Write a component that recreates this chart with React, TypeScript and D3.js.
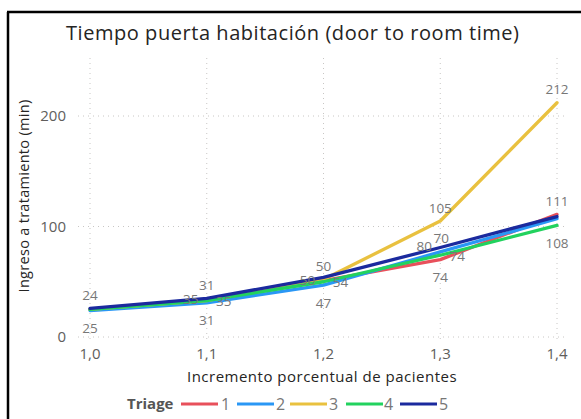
import React from "react";
import * as d3 from "d3";

const xValues = [1.0, 1.1, 1.2, 1.3, 1.4];
const xTickLabels = ["1,0", "1,1", "1,2", "1,3", "1,4"];
const yTicks = [0, 100, 200];
const seriesNames = ["1", "2", "3", "4", "5"];
const seriesColors = ["#E8505B", "#2A97F5", "#E9C13F", "#22D25E", "#1B2A9E"];
const triage1 = [25, 33, 51, 70, 111];
const triage2 = [24, 31, 47, 77, 107];
const triage3 = [25, 33, 52, 105, 212];
const triage4 = [25, 33, 50, 74, 101];
const triage5 = [26, 35, 54, 81, 109];
const seriesValues = [triage1, triage2, triage3, triage4, triage5];

// data labels as shown: series index, point index, text, placement
const dataLabels: [number, number, string, string][] = [
  [4, 0, "24", "above"],
  [1, 0, "25", "below"],
  [4, 1, "31", "above"],
  [1, 1, "31", "below"],
  [3, 1, "35", "left"],
  [3, 1, "35", "right"],
  [2, 2, "50", "above"],
  [1, 2, "47", "below"],
  [3, 2, "50", "left"],
  [3, 2, "54", "right"],
  [2, 3, "105", "above"],
  [4, 3, "80", "left"],
  [4, 3, "70", "aboveTight"],
  [3, 3, "74", "right"],
  [0, 3, "74", "below"],
  [2, 4, "212", "above"],
  [0, 4, "111", "above"],
  [3, 4, "108", "below"],
];

const W = 581;
const H = 419;

export default function App() {
  const x = d3.scaleLinear().domain([1.0, 1.4]).range([90, 557]);
  const y = d3.scaleLinear().domain([0, 200]).range([337, 116]);
  const plotTop = 58;
  const line = d3
    .line<number>()
    .x((_, i) => x(xValues[i]))
    .y((d) => y(d));

  const font = "'Open Sans', 'DejaVu Sans', sans-serif";
  const offsets: Record<string, [number, number]> = {
    above: [0, -13],
    aboveTight: [1, -9],
    below: [0, 18],
    left: [-16, -1],
    right: [17, 1],
  };

  const legendItems = [
    { lx: 181, tx: 221 },
    { lx: 237, tx: 276 },
    { lx: 290, tx: 329 },
    { lx: 346, tx: 384 },
    { lx: 400, tx: 439 },
  ];

  return (
    <svg
      width={W}
      height={H}
      style={{ position: "absolute", left: 0, top: 0, background: "#fff" }}
      fontFamily={font}
    >
      {/* frame */}
      <line x1={7} y1={12} x2={W} y2={12} stroke="#000" strokeWidth={2.5} />
      <line x1={8} y1={12} x2={8} y2={H} stroke="#000" strokeWidth={2.5} />

      {/* title */}
      <text x={66} y={40} fontSize={20} fill="#252423" style={{ letterSpacing: "0.55px" }}>
        Tiempo puerta habitación (door to room time)
      </text>

      {/* gridlines */}
      {yTicks.map((t) => (
        <line
          key={"gy" + t}
          x1={78}
          x2={567}
          y1={y(t)}
          y2={y(t)}
          stroke="#C8C6C4"
          strokeWidth={1}
          strokeDasharray="1,4"
        />
      ))}
      {xValues.map((v) => (
        <line
          key={"gx" + v}
          x1={x(v)}
          x2={x(v)}
          y1={plotTop}
          y2={y(0) + 5}
          stroke="#C8C6C4"
          strokeWidth={1}
          strokeDasharray="1,4"
        />
      ))}

      {/* y ticks */}
      {yTicks.map((t) => (
        <text
          key={"ty" + t}
          x={66}
          y={y(t)}
          dy="0.35em"
          textAnchor="end"
          fontSize={15}
          fill="#605E5C"
        >
          {t}
        </text>
      ))}
      {/* x ticks */}
      {xValues.map((v, i) => (
        <text
          key={"tx" + v}
          x={x(v)}
          y={359}
          textAnchor="middle"
          fontSize={15}
          fill="#605E5C"
        >
          {xTickLabels[i]}
        </text>
      ))}

      {/* axis titles */}
      <text
        transform={`translate(29,196) rotate(-90)`}
        textAnchor="middle"
        fontSize={14.5}
        fill="#252423"
        style={{ letterSpacing: "0.3px" }}
      >
        Ingreso a tratamiento (min)
      </text>
      <text
        x={322}
        y={382}
        textAnchor="middle"
        fontSize={15}
        fill="#252423"
        style={{ letterSpacing: "0.5px" }}
      >
        Incremento porcentual de pacientes
      </text>

      {/* lines */}
      {seriesValues.map((vals, s) => (
        <path
          key={"s" + s}
          d={line(vals) || ""}
          fill="none"
          stroke={seriesColors[s]}
          strokeWidth={3.3}
          strokeLinejoin="round"
          strokeLinecap="round"
        />
      ))}

      {/* data labels */}
      {dataLabels.map(([s, i, txt, pos], k) => {
        const [dx, dy] = offsets[pos];
        return (
          <text
            key={"dl" + k}
            x={x(xValues[i]) + dx}
            y={y(seriesValues[s][i]) + dy}
            dy="0.35em"
            textAnchor="middle"
            fontSize={13.5}
            fill="#777"
          >
            {txt}
          </text>
        );
      })}

      {/* legend */}
      <text x={127} y={409} fontSize={15} fontWeight="bold" fill="#555">
        Triage
      </text>
      {legendItems.map((it, s) => (
        <g key={"lg" + s}>
          <line
            x1={it.lx}
            x2={it.lx + 37}
            y1={404}
            y2={404}
            stroke={seriesColors[s]}
            strokeWidth={3}
          />
          <text x={it.tx} y={410} fontSize={16} fill="#777">
            {seriesNames[s]}
          </text>
        </g>
      ))}
    </svg>
  );
}
